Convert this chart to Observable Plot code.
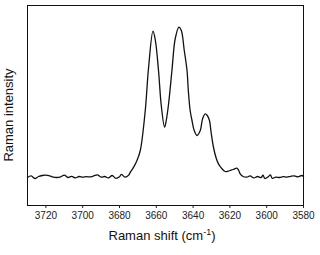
<!DOCTYPE html>
<html><head><meta charset="utf-8">
<script src="https://cdn.jsdelivr.net/npm/d3@7"></script>
<script src="https://cdn.jsdelivr.net/npm/@observablehq/plot@0.6"></script>
<style>
body{margin:0;background:#fff;}
svg{font-family:"Liberation Sans",Arial,sans-serif;}
</style>
</head><body><div id="chart"></div>
<script>
const shift = [3730,3728,3726,3724,3722,3720,3718,3716,3714,3712,3710,3708,3706,3704,3702,3700,3698,3696,3694,3692,3690,3688,3686,3684,3682,3680,3679,3677,3675,
3674.1,3672.3,3670.5,3668.7,3666,3664.2,3661.8,3660.5,3658.8,3657.3,3655.5,3654.6,3653.3,3651.5,3649.7,3647.7,3646.4,3644.8,3643.3,3642.6,3641.6,3640.6,3639.4,3637.9,3636.1,3634.8,3633.4,3632.3,3631.1,3630.2,3628.9,3627.4,3626.2,3624.7,3622.6,3620.9,3619.9,3618.2,3616.2,3615.2,3614.4,3612.8,3610.8,
3609,3607,3605,3603,3602,3601,3599,3598,3597,3595,3593,3591,3589,3587,3585,3583,3581,3580];
const intensity = [14,14.8,13.5,14.5,15,15.2,14.8,14.2,14,14.3,15.2,14,14.6,13.8,14.5,14.2,14.4,14.3,14.8,15.3,14.2,14.5,13.8,15,13.6,14.4,15.6,14.2,15.2,
16.7,19.2,22.5,27.5,47.5,69,87.2,82.5,67.5,50,39.2,42.5,51,67.5,83.5,89.2,87.5,77.5,67.5,57.5,47.5,42.5,37.5,35,37.5,43.5,45.8,45,42.5,36.5,29,23.5,20.8,18.8,17,17.2,17.5,18,18.7,17.5,15.8,14.5,14.2,
14.8,13.8,14.5,14,15.2,13.5,14.5,15.3,13.6,14.2,14,14.4,14.2,14.6,14.8,14.3,15,14.5];
const xTicks = [3720,3700,3680,3660,3640,3620,3600,3580];
const data = shift.map((s,i)=>({shift:s, intensity:intensity[i]}));

const chart = Plot.plot({
  width:320, height:255,
  marginLeft:27, marginRight:17, marginTop:5, marginBottom:50,
  style:{fontFamily:"Liberation Sans, Arial, sans-serif", fontSize:"10px", color:"#222"},
  x:{domain:[3730,3580]},
  y:{domain:[0,100], axis:null},
  marks:[
    Plot.line(data,{x:"shift", y:"intensity", stroke:"#111", strokeWidth:1.3, curve:"catmull-rom"}),
    Plot.frame({stroke:"#111", strokeWidth:1}),
    Plot.axisX({ticks:xTicks, tickFormat:"d", tickSize:3, tickPadding:3, label:null, fontSize:10})
  ]
});
document.getElementById("chart").append(chart);
const svg = d3.select(chart);
const xl = svg.append("text").attr("x",162).attr("y",240).attr("text-anchor","middle")
  .attr("font-size",13).attr("fill","#111");
xl.append("tspan").text("Raman shift (cm");
xl.append("tspan").attr("dy",-5).attr("font-size",9).text("-1");
xl.append("tspan").attr("dy",5).text(")");
svg.append("text").attr("transform","translate(13,115) rotate(-90)").attr("text-anchor","middle")
  .attr("font-size",13).attr("fill","#111").text("Raman intensity");
</script></body></html>
